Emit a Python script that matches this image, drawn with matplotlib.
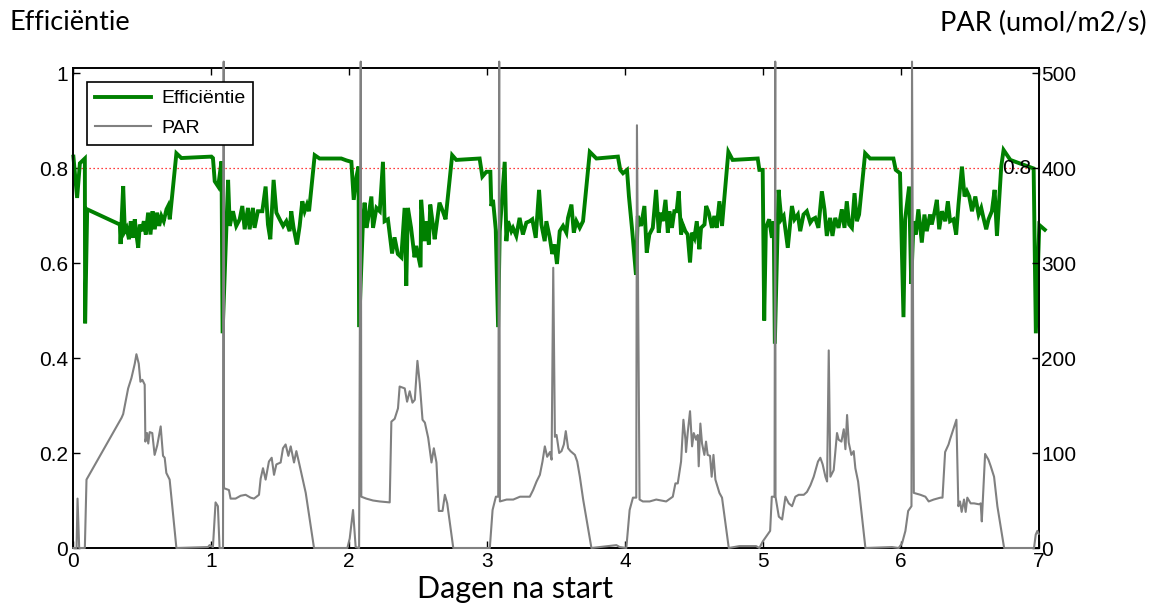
import matplotlib
matplotlib.use('Agg')
import matplotlib.pyplot as plt
from matplotlib.lines import Line2D

plt.rcParams['font.family'] = ['Liberation Sans', 'DejaVu Sans']

# ---------------- data ----------------
eff_t = [0.000, 0.027, 0.047, 0.083, 0.085, 0.100, 0.337, 0.342, 0.361, 0.373, 0.386, 0.403,
         0.416, 0.433, 0.445, 0.457, 0.470, 0.482, 0.494, 0.511, 0.525, 0.542, 0.559, 0.574,
         0.590, 0.607, 0.622, 0.638, 0.655, 0.675, 0.687, 0.699, 0.747, 0.783, 1.001, 1.012,
         1.025, 1.050, 1.074, 1.082,
         1.122, 1.134, 1.157, 1.181, 1.206, 1.225, 1.242, 1.266, 1.278, 1.302, 1.314, 1.338,
         1.370, 1.394, 1.411, 1.428, 1.452, 1.472, 1.496, 1.521, 1.544, 1.568, 1.580, 1.597,
         1.621, 1.641, 1.660, 1.677, 1.694, 1.709, 1.750, 1.785, 1.943, 1.980, 2.016, 2.033,
         2.053, 2.068, 2.072,
         2.100, 2.112, 2.125, 2.137, 2.161, 2.173, 2.198, 2.222, 2.245, 2.257, 2.281, 2.311,
         2.329, 2.353, 2.378, 2.402, 2.414, 2.426, 2.449, 2.474, 2.486, 2.518, 2.522, 2.546,
         2.559, 2.578, 2.588, 2.607, 2.620, 2.655, 2.679, 2.699, 2.747, 2.777, 2.946, 2.966,
         2.995, 3.024, 3.031, 3.043, 3.063, 3.080,
         3.092, 3.128, 3.140, 3.152, 3.176, 3.188, 3.212, 3.236, 3.260, 3.285, 3.309, 3.328,
         3.353, 3.377, 3.394, 3.418, 3.430, 3.455, 3.473, 3.490, 3.507, 3.527, 3.551, 3.575,
         3.587, 3.612, 3.629, 3.648, 3.672, 3.696, 3.745, 3.793, 3.949, 3.966, 3.986, 4.015,
         4.029, 4.053, 4.080,
         4.093, 4.117, 4.141, 4.158, 4.177, 4.202, 4.226, 4.245, 4.262, 4.274, 4.294, 4.311,
         4.322, 4.341, 4.358, 4.375, 4.390, 4.407, 4.419, 4.438, 4.455, 4.472, 4.487, 4.504,
         4.521, 4.540, 4.552, 4.577, 4.589, 4.608, 4.631, 4.648, 4.665, 4.685, 4.704, 4.721,
         4.750, 4.781, 4.963, 4.975, 4.999, 5.010, 5.022, 5.046, 5.066, 5.079, 5.087,
         5.114, 5.134, 5.151, 5.181, 5.211, 5.230, 5.254, 5.271, 5.295, 5.319, 5.344, 5.361,
         5.380, 5.403, 5.428, 5.447, 5.464, 5.488, 5.505, 5.525, 5.549, 5.573, 5.592, 5.609,
         5.626, 5.646, 5.665, 5.682, 5.698, 5.742, 5.778, 5.947, 5.964, 5.995, 6.020, 6.032,
         6.061, 6.076,
         6.093, 6.110, 6.128, 6.153, 6.172, 6.189, 6.213, 6.225, 6.245, 6.262, 6.279, 6.299,
         6.323, 6.342, 6.358, 6.383, 6.402, 6.419, 6.444, 6.463, 6.480, 6.497, 6.517, 6.541,
         6.565, 6.584, 6.600, 6.620, 6.637, 6.661, 6.681, 6.698, 6.729, 6.746, 6.795, 6.927,
         6.964, 6.980, 7.005, 7.045]

eff_v = [0.824, 0.737, 0.810, 0.820, 0.473, 0.713, 0.681, 0.640, 0.762, 0.667, 0.674, 0.650,
         0.688, 0.653, 0.692, 0.660, 0.632, 0.681, 0.667, 0.688, 0.660, 0.706, 0.660, 0.709,
         0.671, 0.706, 0.678, 0.699, 0.688, 0.713, 0.720, 0.692, 0.831, 0.821, 0.824, 0.821,
         0.772, 0.761, 0.814, 0.452,
         0.775, 0.678, 0.709, 0.678, 0.692, 0.720, 0.671, 0.716, 0.671, 0.716, 0.674, 0.709,
         0.709, 0.761, 0.681, 0.650, 0.775, 0.706, 0.692, 0.678, 0.688, 0.667, 0.709, 0.674,
         0.639, 0.678, 0.730, 0.709, 0.723, 0.709, 0.827, 0.820, 0.820, 0.816, 0.813, 0.733,
         0.782, 0.803, 0.465,
         0.688, 0.727, 0.674, 0.692, 0.740, 0.674, 0.716, 0.709, 0.813, 0.688, 0.692, 0.620,
         0.654, 0.619, 0.612, 0.716, 0.552, 0.716, 0.674, 0.612, 0.636, 0.591, 0.733, 0.646,
         0.688, 0.639, 0.723, 0.681, 0.650, 0.727, 0.709, 0.692, 0.827, 0.817, 0.820, 0.782,
         0.792, 0.792, 0.720, 0.733, 0.671, 0.465,
         0.667, 0.813, 0.646, 0.688, 0.667, 0.674, 0.657, 0.695, 0.660, 0.685, 0.688, 0.692,
         0.653, 0.754, 0.681, 0.646, 0.688, 0.653, 0.619, 0.639, 0.598, 0.667, 0.678, 0.664,
         0.695, 0.723, 0.664, 0.688, 0.674, 0.688, 0.834, 0.820, 0.824, 0.796, 0.789, 0.796,
         0.740, 0.667, 0.575,
         0.699, 0.678, 0.720, 0.622, 0.660, 0.674, 0.754, 0.664, 0.706, 0.688, 0.733, 0.664,
         0.709, 0.674, 0.709, 0.709, 0.751, 0.660, 0.681, 0.667, 0.660, 0.601, 0.664, 0.653,
         0.688, 0.629, 0.674, 0.681, 0.720, 0.706, 0.674, 0.699, 0.674, 0.730, 0.678, 0.737,
         0.834, 0.817, 0.820, 0.796, 0.796, 0.479, 0.674, 0.692, 0.653, 0.688, 0.430,
         0.754, 0.692, 0.699, 0.632, 0.720, 0.692, 0.702, 0.667, 0.702, 0.709, 0.685, 0.692,
         0.695, 0.674, 0.751, 0.713, 0.657, 0.695, 0.657, 0.695, 0.674, 0.713, 0.674, 0.730,
         0.681, 0.674, 0.747, 0.688, 0.702, 0.831, 0.820, 0.820, 0.796, 0.789, 0.486, 0.692,
         0.761, 0.556,
         0.688, 0.660, 0.713, 0.643, 0.702, 0.667, 0.702, 0.681, 0.706, 0.733, 0.671, 0.709,
         0.688, 0.730, 0.688, 0.692, 0.660, 0.723, 0.803, 0.740, 0.751, 0.740, 0.709, 0.740,
         0.702, 0.716, 0.695, 0.671, 0.692, 0.709, 0.754, 0.657, 0.803, 0.838, 0.817, 0.803,
         0.799, 0.452, 0.680, 0.670]

par_t = [0.000, 0.023, 0.030, 0.042, 0.083, 0.095, 0.349, 0.361, 0.397, 0.421, 0.445, 0.457,
         0.474, 0.486, 0.500, 0.517, 0.522, 0.534, 0.543, 0.553, 0.572, 0.589, 0.608, 0.633,
         0.650, 0.662, 0.674, 0.698, 0.747, 0.976, 0.988, 1.012, 1.031, 1.048, 1.060, 1.085,
         1.090, 1.092, 1.128, 1.140, 1.176, 1.213, 1.249, 1.285, 1.310, 1.346, 1.358, 1.375,
         1.394, 1.418, 1.438, 1.455, 1.472, 1.503, 1.520, 1.539, 1.559, 1.576, 1.600, 1.617,
         1.636, 1.685, 1.745, 1.987, 2.004, 2.028, 2.047, 2.072,
         2.084, 2.088, 2.124, 2.173, 2.221, 2.294, 2.306, 2.330, 2.354, 2.366, 2.403, 2.420,
         2.439, 2.459, 2.476, 2.495, 2.512, 2.532, 2.549, 2.573, 2.597, 2.614, 2.633, 2.650,
         2.677, 2.694, 2.711, 2.755, 3.020, 3.040, 3.064, 3.081,
         3.088, 3.093, 3.142, 3.190, 3.239, 3.310, 3.334, 3.359, 3.383, 3.402, 3.419, 3.436,
         3.456, 3.468, 3.480, 3.492, 3.504, 3.523, 3.540, 3.557, 3.571, 3.588, 3.605, 3.637,
         3.654, 3.673, 3.697, 3.757, 3.938, 3.962, 4.010, 4.034, 4.058, 4.082,
         4.087, 4.106, 4.130, 4.179, 4.227, 4.299, 4.347, 4.366, 4.383, 4.407, 4.424, 4.439,
         4.443, 4.455, 4.472, 4.487, 4.499, 4.516, 4.528, 4.535, 4.547, 4.559, 4.576, 4.588,
         4.600, 4.617, 4.629, 4.642, 4.656, 4.685, 4.704, 4.753, 4.830, 4.951, 4.975, 5.000,
         5.024, 5.053, 5.065, 5.085,
         5.090, 5.092, 5.116, 5.140, 5.164, 5.188, 5.212, 5.236, 5.260, 5.297, 5.320, 5.345,
         5.369, 5.400, 5.417, 5.434, 5.454, 5.466, 5.478, 5.490, 5.514, 5.538, 5.550, 5.570,
         5.587, 5.599, 5.611, 5.623, 5.642, 5.659, 5.671, 5.691, 5.744, 5.937, 5.985, 6.010,
         6.034, 6.054, 6.078,
         6.082, 6.095, 6.143, 6.179, 6.203, 6.239, 6.288, 6.303, 6.322, 6.347, 6.357, 6.404,
         6.418, 6.430, 6.442, 6.459, 6.471, 6.483, 6.507, 6.532, 6.568, 6.580, 6.588, 6.612,
         6.636, 6.653, 6.677, 6.701, 6.750, 6.967, 6.979, 6.991, 7.000]

par_v = [0, 0, 52, 0, 0, 72, 137, 141, 168, 179, 194, 204,
         194, 175, 177, 172, 112, 121, 110, 122, 121, 98, 108, 128,
         97, 95, 79, 72, 0, 1, 3, 1, 48, 44, 0, 0,
         512, 63, 61, 52, 52, 55, 56, 53, 52, 56, 73, 84,
         72, 91, 95, 77, 88, 90, 105, 109, 97, 107, 90, 102,
         90, 58, 0, 0, 10, 40, 1, 0,
         512, 54, 52, 50, 49, 48, 133, 136, 147, 170, 168, 154,
         165, 153, 156, 197, 173, 135, 132, 116, 90, 105, 90, 39,
         39, 56, 47, 0, 0, 40, 54, 54,
         512, 49, 51, 51, 54, 54, 61, 70, 77, 91, 107, 96,
         101, 93, 295, 117, 119, 100, 102, 109, 123, 105, 102, 98,
         91, 75, 51, 0, 3, 1, 0, 40, 53, 53,
         445, 51, 49, 49, 51, 49, 54, 68, 68, 91, 135, 114,
         101, 121, 144, 107, 121, 114, 119, 86, 131, 110, 98, 112,
         98, 97, 75, 98, 72, 58, 53, 0, 2, 2, 0, 7,
         12, 18, 54, 54,
         512, 54, 33, 30, 54, 47, 44, 54, 56, 56, 59, 66,
         75, 91, 95, 88, 75, 70, 208, 75, 82, 121, 114, 112,
         125, 104, 140, 111, 98, 102, 84, 70, 0, 1, 0, 5,
         18, 39, 44,
         512, 58, 56, 54, 49, 51, 53, 53, 101, 109, 114, 135,
         44, 49, 38, 51, 38, 53, 47, 47, 46, 47, 28, 99,
         93, 86, 75, 44, 0, 0, 14, 18, 15]

eff_ticks = [0, 0.2, 0.4, 0.6, 0.8, 1]
eff_ticklabels = ['0', '0.2', '0.4', '0.6', '0.8', '1']
par_ticks = [0, 100, 200, 300, 400, 500]
day_ticks = [0, 1, 2, 3, 4, 5, 6, 7]
threshold = 0.8

# ---------------- figure ----------------
W, H = 1160, 605
fig = plt.figure(figsize=(W / 100, H / 100), dpi=100)
ax = fig.add_axes([73.4 / W, 1 - 548 / H, (1038.6 - 73.4) / W, (548 - 67.5) / H])
ax2 = ax.twinx()

green = '#008000'
gray = '#808080'

ax.plot(eff_t, eff_v, color=green, lw=2.8, clip_on=False, zorder=3,
        solid_joinstyle='miter')
ax.axhline(threshold, color='red', lw=0.9, ls=(0, (1, 2.2)), zorder=2)
ax.text(6.948, threshold, '0.8', ha='right', va='center', fontsize=15, zorder=4)

ax2.plot(par_t, par_v, color=gray, lw=1.5, zorder=3, clip_on=False)

ax.set_xlim(0, 7)
ax.set_ylim(0, 1.0116)
ax2.set_ylim(0, 505.8)

ax.set_xticks(day_ticks)
ax.set_yticks(eff_ticks)
ax.set_yticklabels(eff_ticklabels)
ax2.set_yticks(par_ticks)

ax.tick_params(axis='x', direction='in', length=5, width=1, top=True, bottom=True,
               labelsize=15, pad=3)
ax.tick_params(axis='y', direction='in', length=5, width=1, left=True, right=False,
               labelsize=15, pad=4)
ax2.tick_params(axis='y', direction='in', length=5, width=1, right=True, left=False,
                labelsize=15, pad=2)
for a in (ax, ax2):
    for s in a.spines.values():
        s.set_linewidth(1.2)

handles = [Line2D([], [], color=green, lw=2.8), Line2D([], [], color=gray, lw=1.5)]
leg = ax2.legend(handles, ['Efficiëntie', 'PAR'], loc='upper left',
                 bbox_to_anchor=(0.0138, 0.9705), borderaxespad=0, fancybox=False,
                 framealpha=1, edgecolor='black', handlelength=2.9, handletextpad=0.5,
                 labelspacing=0.6, borderpad=0.42, prop={'size': 14})
leg.get_frame().set_linewidth(1.2)
leg.set_zorder(10)

titlefont = ['Lato', 'DejaVu Sans']
fig.text(10 / W, 1 - 30 / H, 'Efficiëntie', ha='left', va='baseline', fontsize=19.5,
         family=titlefont)
fig.text(1147 / W, 1 - 31 / H, 'PAR (umol/m2/s)', ha='right', va='baseline', fontsize=19.5,
         family=titlefont)
fig.text(515 / W, 1 - 598 / H, 'Dagen na start', ha='center', va='baseline', fontsize=22,
         family=titlefont)

fig.savefig('out.png', dpi=100)
